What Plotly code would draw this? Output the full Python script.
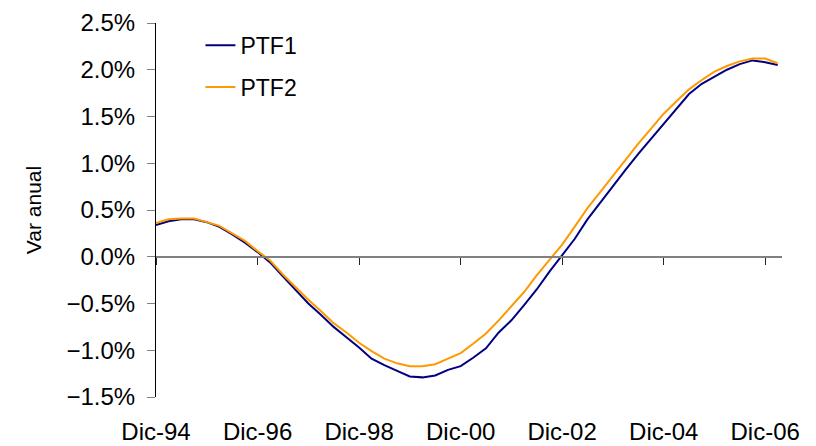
import plotly.graph_objects as go
import pandas as pd

# Quarterly observations, Dic-94 .. Mar-07
dates = pd.date_range("1994-12-01", periods=50, freq="3MS")

ptf1 = [0.34, 0.38, 0.40, 0.40, 0.37, 0.32, 0.24, 0.15, 0.05, -0.06,
        -0.21, -0.36, -0.50, -0.62, -0.75, -0.86, -0.97, -1.09, -1.16, -1.22,
        -1.28, -1.29, -1.27, -1.21, -1.17, -1.08, -0.98, -0.81, -0.68, -0.52,
        -0.35, -0.16, 0.01, 0.19, 0.40, 0.58, 0.75, 0.93, 1.10, 1.26,
        1.43, 1.58, 1.74, 1.85, 1.93, 2.00, 2.06, 2.10, 2.08, 2.05]

ptf2 = [0.36, 0.40, 0.41, 0.41, 0.37, 0.33, 0.25, 0.17, 0.06, -0.04,
        -0.19, -0.33, -0.46, -0.58, -0.71, -0.81, -0.92, -1.01, -1.09, -1.14,
        -1.17, -1.17, -1.15, -1.09, -1.03, -0.93, -0.82, -0.68, -0.53, -0.38,
        -0.20, -0.03, 0.13, 0.32, 0.52, 0.69, 0.86, 1.04, 1.21, 1.37,
        1.53, 1.66, 1.79, 1.89, 1.98, 2.04, 2.09, 2.12, 2.12, 2.07]

tick_dates = ["1994-12-01", "1996-12-01", "1998-12-01", "2000-12-01",
              "2002-12-01", "2004-12-01", "2006-12-01"]
tick_labels = ["Dic-94", "Dic-96", "Dic-98", "Dic-00", "Dic-02", "Dic-04", "Dic-06"]

x_range = ["1994-12-01", "2007-04-01"]
y_min, y_max = -1.5, 2.5

FONT = "Liberation Sans, Arial, sans-serif"

fig = go.Figure()
fig.add_trace(go.Scatter(x=dates, y=ptf1, name="PTF1", mode="lines",
                         line=dict(color="#000080", width=2),
                         legendgroup="a"))
fig.add_trace(go.Scatter(x=dates, y=ptf2, name="PTF2", mode="lines",
                         line=dict(color="#FF9900", width=2),
                         xaxis="x2", legendgroup="b"))

zero_pos = (0 - y_min) / (y_max - y_min)

fig.update_layout(
    width=816, height=446,
    margin=dict(l=156, r=34, t=23, b=49),
    paper_bgcolor="white", plot_bgcolor="white",
    font=dict(family=FONT, size=23, color="black"),
    showlegend=True,
    legend=dict(x=0.071, y=0.998, xanchor="left", yanchor="top",
                bgcolor="rgba(0,0,0,0)", borderwidth=0,
                font=dict(size=23), tracegroupgap=9),
    xaxis=dict(type="date", range=x_range, showline=False, showgrid=False,
               zeroline=False, ticks="", tickmode="array",
               tickvals=tick_dates, ticktext=tick_labels, automargin=False,
               ticklabelstandoff=18, tickfont=dict(size=24)),
    xaxis2=dict(type="date", range=x_range, overlaying="x", anchor="free",
                position=zero_pos, showline=True, linecolor="#808080",
                linewidth=2, showgrid=False, zeroline=False, automargin=False,
                ticks="outside", ticklen=7, tickwidth=1, tickcolor="#222222",
                tickmode="array", tickvals=tick_dates, showticklabels=False),
    yaxis=dict(range=[y_min, y_max], dtick=0.5, tick0=0,
               tickformat=".1f", ticksuffix="%", tickfont=dict(size=24),
               showline=True, linecolor="black", linewidth=1,
               showgrid=False, zeroline=False, automargin=False,
               ticks="outside", ticklen=8, tickcolor="#808080",
               ticklabelstandoff=7,
               title=dict(text="Var anual", font=dict(size=21), standoff=19)),
)

fig.write_html("out.html", config={"displayModeBar": False},
               post_script="document.body.style.margin='0';document.body.style.overflow='hidden';")
